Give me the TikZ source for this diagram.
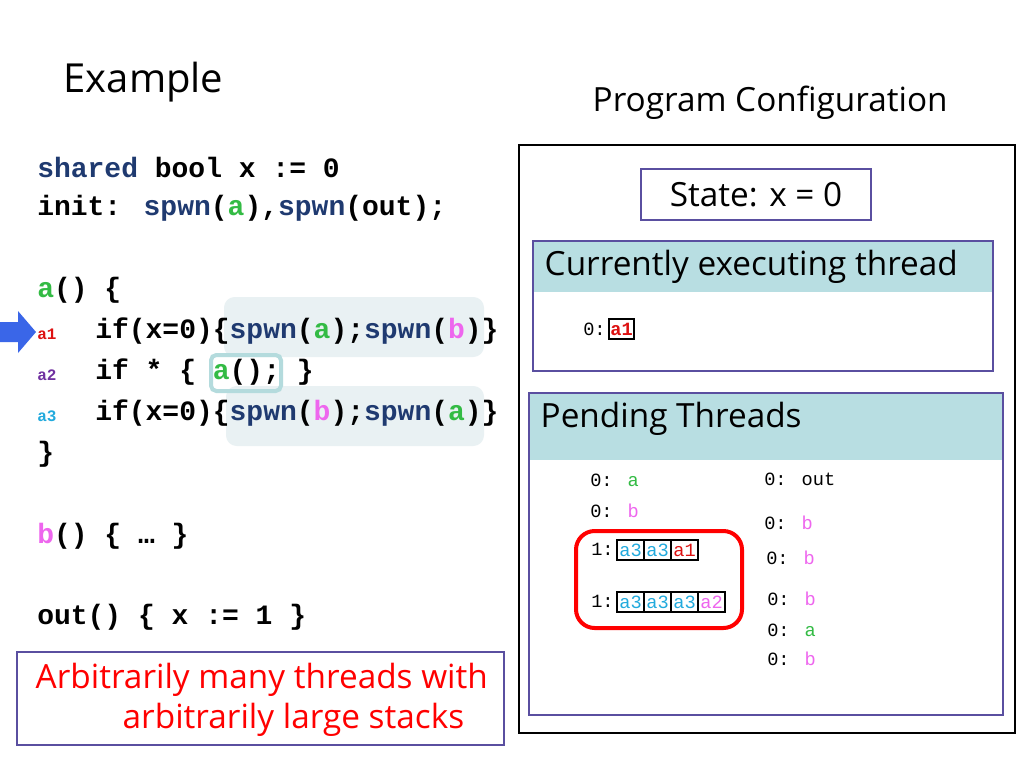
\documentclass[tikz,border=0pt]{standalone}
\usepackage{fontspec}
\setmainfont{Open Sans}
\newfontfamily\cmono{Liberation Mono}
\definecolor{cg}{HTML}{33BB44}
\definecolor{cm}{HTML}{EE66EE}
\definecolor{cc}{HTML}{22AADD}
\definecolor{cr}{HTML}{DD1111}
\definecolor{cn}{HTML}{1F3A70}
\definecolor{cp}{HTML}{7030A0}
\definecolor{hd}{HTML}{B8DEE2}
\definecolor{hl}{HTML}{E9F1F3}
\definecolor{bx}{HTML}{5A4FA0}
\definecolor{arr}{HTML}{3A66E8}
\newcommand{\G}[1]{\textcolor{cg}{#1}}
\newcommand{\M}[1]{\textcolor{cm}{#1}}
\newcommand{\C}[1]{\textcolor{cc}{#1}}
\newcommand{\R}[1]{\textcolor{cr}{#1}}
\newcommand{\N}[1]{\textcolor{cn}{#1}}
\begin{document}
\begin{tikzpicture}[x=0.75pt,y=-0.75pt,
 code/.style={anchor=west,inner sep=0pt,font=\cmono\bfseries\fontsize{21}{24}\selectfont},
 lbl/.style={anchor=west,inner sep=0pt,font=\cmono\bfseries\fontsize{12}{14}\selectfont},
 pend/.style={anchor=west,inner sep=0pt,font=\cmono\fontsize{14}{16}\selectfont},
 cell/.style={draw=black,line width=1.5pt,minimum width=20.25pt,minimum height=15pt,inner sep=0pt,font=\cmono\fontsize{14}{16}\selectfont},
 big/.style={font=\fontsize{25}{30}\selectfont},
 frame/.style={draw=bx,line width=0.8pt}]
\useasboundingbox (0,0) rectangle (1024,768);
\fill[white] (0,0) rectangle (1024,768);
% title
\node[anchor=west,font=\fontsize{30}{36}\selectfont] (title) at (59,82) {Example};
\node[anchor=west,big] (pc) at (588,103) {Program Configuration};
% highlights
\fill[hl,rounded corners=8pt] (224,297) rectangle (484,357);
\fill[hl,rounded corners=8pt] (226,386) rectangle (484,446);
\draw[draw=hd!80!teal!70,line width=3pt,rounded corners=4pt] (211,355) rectangle (281,391);
% code
\node[code] (l1) at (37,167) {\N{shared} bool x := 0};
\node[code] (l2) at (37,208) {init: \N{spwn}(\G{a}),\N{spwn}(out);};
\node[code] (l3) at (37,290) {\G{a}() \{};
\node[code] (l4) at (95,331) {if(x=0)\{\N{spwn}(\G{a});\N{spwn}(\M{b})\}};
\node[code] (l5) at (95,372) {if * \{ \G{a}(); \}};
\node[code] (l6) at (95,413) {if(x=0)\{\N{spwn}(\M{b});\N{spwn}(\G{a})\}};
\node[code] (l7) at (37,454) {\}};
\node[code] (l8) at (37,536) {\M{b}() \{ … \}};
\node[code] (l9) at (37,617) {out() \{ x := 1 \}};
\node[lbl,text=cr] (a1) at (37,334) {a1};
\node[lbl,text=cp] (a2) at (37,375) {a2};
\node[lbl,text=cc] (a3) at (37,416) {a3};
\fill[arr] (0,322) -- (18,322) -- (18,311) -- (36,332) -- (18,353) -- (18,342) -- (0,342) -- cycle;
% bottom red box
\draw[frame] (17,652) rectangle (504,745);
\node[big,text=red,anchor=west] (r1) at (31,680) {Arbitrarily many threads with};
\node[big,text=red,anchor=west] (r2) at (118,720) {arbitrarily large stacks};
% configuration
\draw[line width=2.2pt] (519,145) rectangle (1015,733);
\draw[frame] (641,169) rectangle (871,220);
\node[big] (st) at (756,195) {State: x = 0};
\fill[hd] (533,241) rectangle (993,292);
\draw[frame] (533,241) rectangle (993,371);
\node[anchor=west,big] (cet) at (540,267) {Currently executing thread};
\node[pend] (c0) at (583,329) {0:};
\node[cell,text=cr,minimum width=18.75pt,font=\cmono\bfseries\fontsize{14}{16}\selectfont] (c1) at (621.5,329) {a1};
\fill[hd] (529,393) rectangle (1003,460);
\draw[frame] (529,393) rectangle (1003,715);
\node[anchor=west,big] (pt) at (536,419) {Pending Threads};
\node[pend] (p1) at (590,480) {0: \G{a}};
\node[pend] (p2) at (590,511) {0: \M{b}};
\node[pend] (p3) at (764,479) {0: out};
\node[pend] (p4) at (764,523) {0: \M{b}};
\node[pend] (p5) at (766,558) {0: \M{b}};
\node[pend] (p6) at (767,599) {0: \M{b}};
\node[pend] (p7) at (767,630) {0: \G{a}};
\node[pend] (p8) at (767,659) {0: \M{b}};
\draw[red,line width=3pt,rounded corners=14pt] (576,531) rectangle (742,628);
\node[pend] (s1) at (591,549) {1:};
\node[cell,text=cc] (s11) at (630.5,550) {a3};
\node[cell,text=cc] (s12) at (657.5,550) {a3};
\node[cell,text=cr] (s13) at (684.5,550) {a1};
\node[pend] (s2) at (591,601) {1:};
\node[cell,text=cc] (s21) at (630.5,602) {a3};
\node[cell,text=cc] (s22) at (657.5,602) {a3};
\node[cell,text=cc] (s23) at (684.5,602) {a3};
\node[cell,text=cm] (s24) at (711.5,602) {a2};
\end{tikzpicture}
\end{document}
